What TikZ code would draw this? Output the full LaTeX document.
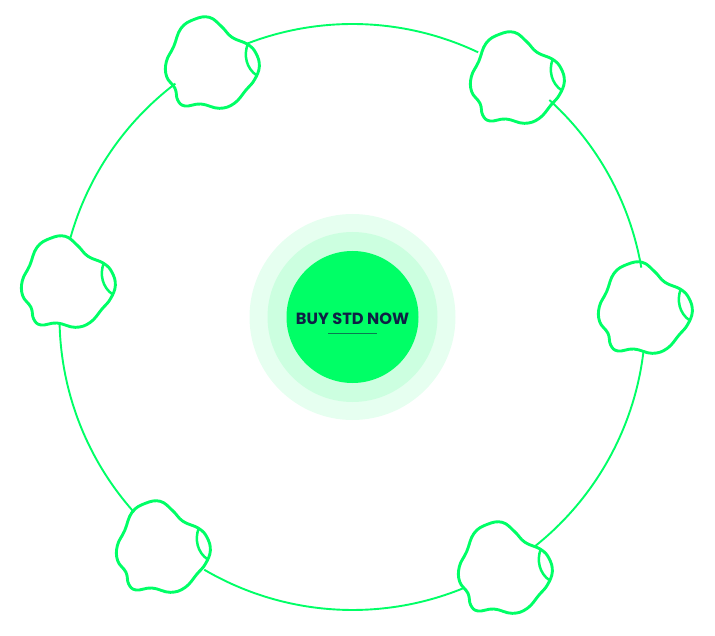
\documentclass[tikz,border=0pt]{standalone}
\usepackage{fontspec}
\usetikzlibrary{calc}
\setmainfont{Poppins}
\definecolor{grn}{HTML}{00FF66}
\definecolor{ringa}{HTML}{E6FFF0}
\definecolor{ringb}{HTML}{CCFFE0}
\definecolor{navy}{HTML}{0F1F45}
\definecolor{ul}{HTML}{0A7A50}
\tikzset{
  blobline/.style={draw=grn,line width=2.9pt,line join=round},
  orbit/.style={draw=grn,line width=1.9pt},
  disc/.style={circle,inner sep=0pt,minimum size=#1,draw=none},
  blob/.pic={
    \draw[blobline,scale=1/3] plot[smooth cycle,tension=0.7] coordinates {
      (290,118) (243,97) (212,65) (175,37) (130,43) (90,70) (68,125) (46,170) (47,215)
      (72,250) (80,285) (102,303) (150,297) (205,310) (250,295) (285,255) (310,225) (325,185) (315,145)};
    \draw[blobline,line width=2.5pt,scale=1/3] (290,118) .. controls (278,150) and (285,190) .. (318,212);
  }
}
\begin{document}
\begin{tikzpicture}[x=1pt,y=-1pt]
\useasboundingbox (0,0) rectangle (715,636);
\coordinate (ctr) at (352.5,317);
\node[disc=206pt,fill=ringa] (r3) at (ctr) {};
\node[disc=170pt,fill=ringb] (r2) at (ctr) {};
\node[disc=132pt,fill=grn] (r1) at (ctr) {};
\node[text=navy,font=\fontsize{16.2}{18}\selectfont\bfseries,inner sep=0pt] (t) at (352.5,318.5) {BUY STD NOW};
\coordinate (ula) at (328,333.7);
\coordinate (ulb) at (377,333.7);
\draw[ul,line width=1.5pt] (ula) -- (ulb);
% orbit arcs (angles negated because y points down)
\foreach \nm/\a/\b in {p/-111/-64.6,q/-47.8/-9.7,s/6.5/51.5,u/67.5/120.4,v/138.2/178.8,w/195.7/232.8}{
  \coordinate (\nm) at ($(ctr)+(\a:293)$);
  \draw[orbit] (\nm) arc[start angle=\a,end angle=\b,radius=293];
}
\pic at (151,5) {blob};
\pic at (456,20) {blob};
\pic at (584,250) {blob};
\pic at (7,224) {blob};
\pic at (102,489) {blob};
\pic at (444,510) {blob};
\end{tikzpicture}
\end{document}
